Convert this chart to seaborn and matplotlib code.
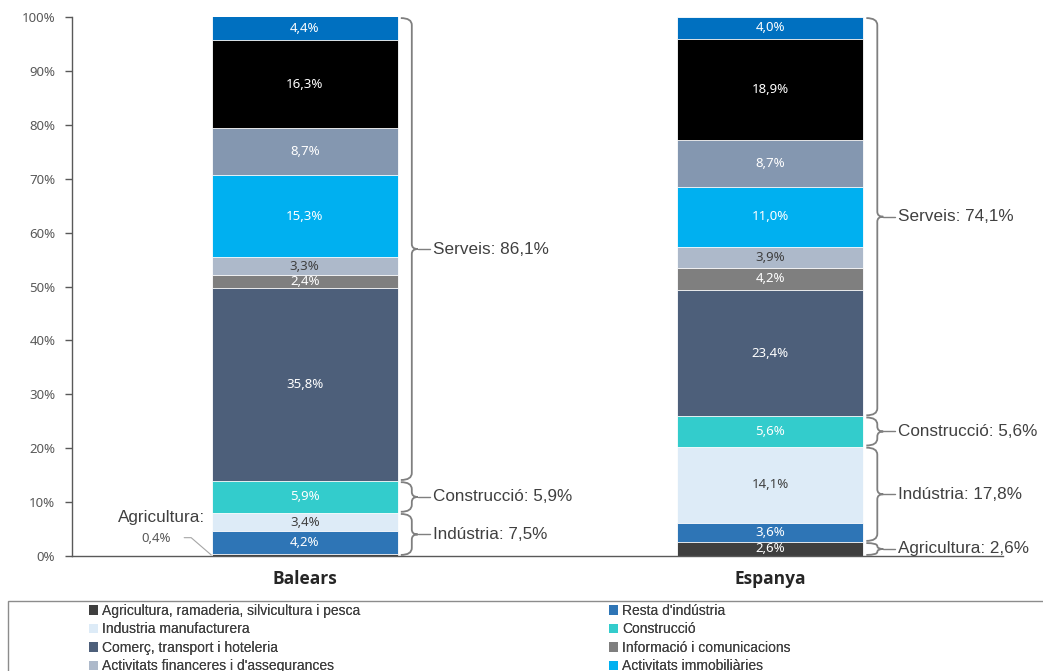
import matplotlib
matplotlib.use("Agg")
import matplotlib.pyplot as plt
from matplotlib.path import Path
from matplotlib.patches import PathPatch, Patch, Rectangle
import seaborn as sns
import numpy as np
import pandas as pd

# ---------------- data ----------------
regions = ["Balears", "Espanya"]
sectors = [
    "Agricultura, ramaderia, silvicultura i pesca",
    "Resta d'indústria",
    "Industria manufacturera",
    "Construcció",
    "Comerç, transport i hoteleria",
    "Informació i comunicacions",
    "Activitats financeres i d'assegurances",
    "Activitats immobiliàries",
    "Activitats professionals, científiques i tècniques",
    "Administració pública, educació i sanitat",
    "Altres serveis",
]
balears = [0.4, 4.2, 3.4, 5.9, 35.8, 2.4, 3.3, 15.3, 8.7, 16.3, 4.4]
espanya = [2.6, 3.6, 14.1, 5.6, 23.4, 4.2, 3.9, 11.0, 8.7, 18.9, 4.0]
colors = ["#3F3F3F", "#2E75B6", "#DDEBF7", "#33CCCC", "#4D5F7A", "#7F7F7F",
          "#ADB9CA", "#00B0F0", "#8497B0", "#000000", "#0070C0"]
text_colors = ["white", "white", "#404040", "white", "white", "white",
               "#404040", "white", "white", "white", "white"]

# groups (braces): (label, first sector idx, last sector idx)
groups_balears = [("Indústria: 7,5%", 1, 2), ("Construcció: 5,9%", 3, 3), ("Serveis: 86,1%", 4, 10)]
groups_espanya = [("Agricultura: 2,6%", 0, 0), ("Indústria: 17,8%", 1, 2),
                  ("Construcció: 5,6%", 3, 3), ("Serveis: 74,1%", 4, 10)]
yticks = list(range(0, 101, 10))
ytick_labels = [f"{v}%" for v in yticks]

def fmt(v):
    return f"{v:.1f}".replace(".", ",") + "%"

# ---------------- figure ----------------
sns.set_style("white")
plt.rcParams["font.family"] = ["Noto Sans", "DejaVu Sans"]

W, H = 1043, 671
fig = plt.figure(figsize=(W / 100, H / 100), dpi=100)
ax = fig.add_axes([72 / W, 115 / H, 931 / W, 539 / H])

vals = np.array([balears, espanya])          # shape (2, 11)
cum = np.cumsum(vals, axis=1)
bar_w = 0.4

# stacked bars: draw cumulative totals from top layer to bottom layer
for i in reversed(range(len(sectors))):
    df = pd.DataFrame({"region": regions, "value": cum[:, i]})
    sns.barplot(data=df, x="region", y="value", color=colors[i], width=bar_w,
                saturation=1, errorbar=None, ax=ax, order=regions,
                edgecolor="white", linewidth=0.6)

ax.set_xlim(-0.5, 1.5)
ax.set_ylim(0, 100)
ax.set_yticks(yticks)
ax.set_yticklabels(ytick_labels)
ax.set_xticks([0, 1])
ax.set_xticklabels(regions, fontweight="bold", fontsize=12.5, color="#262626",
                   family=["Open Sans", "DejaVu Sans"])
ax.set_xlabel("")
ax.set_ylabel("")
for s in ["top", "right"]:
    ax.spines[s].set_visible(False)
ax.spines["left"].set_color("#595959")
ax.spines["left"].set_linewidth(1.0)
ax.spines["bottom"].set_color("#595959")
ax.spines["bottom"].set_linewidth(1.0)
ax.tick_params(axis="y", length=5, width=1, color="#595959", labelcolor="#595959",
               labelsize=9.5, pad=7, left=True)
ax.tick_params(axis="x", length=0, pad=10)

# value labels inside segments
for r in range(2):
    for i in range(len(sectors)):
        v = vals[r, i]
        if r == 0 and i == 0:
            continue  # Balears agriculture labelled outside
        y0 = cum[r, i] - v
        ax.text(r, y0 + v / 2, fmt(v), ha="center", va="center",
                fontsize=9.5, color=text_colors[i])

# outside label for Balears agriculture
ax.text(-0.308, 7.2, "Agricultura:", ha="center", va="center", fontsize=12.3,
        color="#404040", family=["Liberation Sans", "DejaVu Sans"])
ax.text(-0.319, 3.3, fmt(balears[0]), ha="center", va="center", fontsize=9.5,
        color="#595959")
ax.plot([-0.259, -0.244, -0.201], [3.4, 3.4, 0.2], color="#A6A6A6", lw=0.8,
        clip_on=False)

# braces
dx = 1 / 467.0
dy = 100 / 539.0

def brace(xr, y0, y1, label):
    span = y1 - y0
    xh, xs, xt = xr + 3 * dx, xr + 14 * dx, xr + 20 * dx
    r = min(7 * dy, span / 4)
    rm = min(5 * dy, span / 4)
    ym = (y0 + y1) / 2
    verts = [(xh, y1), (xs, y1), (xs, y1 - r),
             (xs, ym + rm),
             (xs, ym), (xt, ym),
             (xs, ym), (xs, ym - rm),
             (xs, y0 + r),
             (xs, y0), (xh, y0)]
    codes = [Path.MOVETO, Path.CURVE3, Path.CURVE3,
             Path.LINETO,
             Path.CURVE3, Path.CURVE3,
             Path.CURVE3, Path.CURVE3,
             Path.LINETO,
             Path.CURVE3, Path.CURVE3]
    ax.add_patch(PathPatch(Path(verts, codes), facecolor="none", edgecolor="#7F7F7F",
                           lw=1.3, clip_on=False))
    ax.plot([xt, xr + 32 * dx], [ym, ym], color="#7F7F7F", lw=1.0, clip_on=False)
    ax.text(xr + 35 * dx, ym, label, ha="left", va="center", fontsize=12.3,
            color="#404040", family=["Liberation Sans", "DejaVu Sans"])

for r, groups in enumerate([groups_balears, groups_espanya]):
    xr = r + bar_w / 2
    for label, a, b in groups:
        lo = cum[r, a] - vals[r, a]
        hi = cum[r, b]
        if r == 0 and a == 1:
            lo = 0.0
        brace(xr, lo + 0.2, min(hi, 100) - 0.2, label)

# legend (row-major, two columns), frame clipped by the figure bottom
handles = [Patch(facecolor=c, edgecolor="none") for c in colors]
leg_font = {"family": ["Liberation Sans", "DejaVu Sans"], "size": 10}
col1 = list(range(0, len(sectors), 2))
col2 = list(range(1, len(sectors), 2))
for idx, xpx in [(col1, 89), (col2, 609)]:
    lg = fig.legend([handles[i] for i in idx], [sectors[i] for i in idx],
                    loc="upper left", bbox_to_anchor=(xpx / W, 1 - 604 / H),
                    frameon=False, prop=leg_font, handlelength=0.65,
                    handleheight=0.65, handletextpad=0.3, labelspacing=0.32,
                    borderpad=0, borderaxespad=0, labelcolor="#404040")
    fig.add_artist(lg)
fig.add_artist(Rectangle((8 / W, -0.05), 1.1, 0.05 + (H - 601) / H,
                         transform=fig.transFigure, facecolor="none",
                         edgecolor="#8C8C8C", lw=1.0))

fig.savefig("out.png", dpi=100)
